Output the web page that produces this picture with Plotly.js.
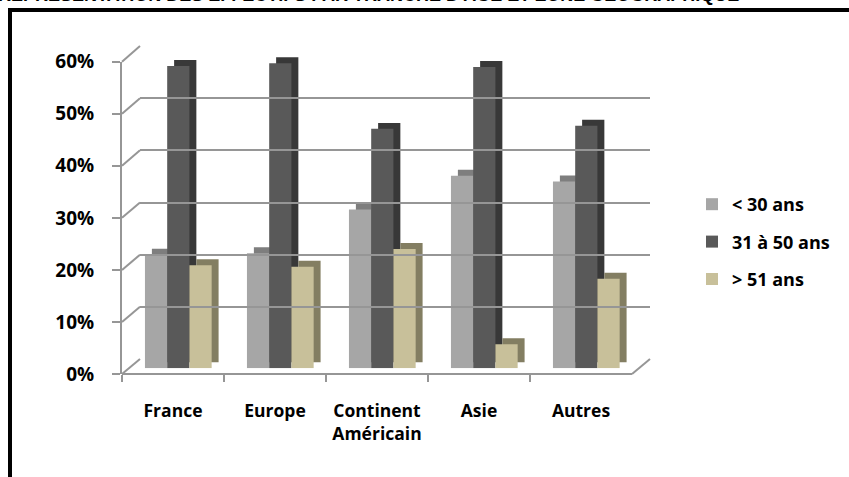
<!DOCTYPE html>
<html><head><meta charset="utf-8">
<script src="https://cdn.plot.ly/plotly-3.0.1.min.js"></script>
<style>html,body{margin:0;padding:0;background:#fff}</style>
</head><body><div id="chart" style="width:849px;height:477px"></div>
<script>
// ---- data ----
const categories = ['France', 'Europe', 'Continent<br>Américain', 'Asie', 'Autres'];
const seriesNames = ['< 30 ans', '31 à 50 ans', '> 51 ans'];
const under30 = [0.218, 0.221, 0.305, 0.370, 0.359];
const from31to50 = [0.581, 0.586, 0.460, 0.579, 0.466];
const over51 = [0.198, 0.195, 0.229, 0.046, 0.172];
const yTickVals = [0, 0.1, 0.2, 0.3, 0.4, 0.5, 0.6];
const titleText = "REPRESENTATION DES EFFECTIFS PAR TRANCHE D'AGE ET ZONE GEOGRAPHIQUE";

// ---- styling / geometry ----
const W = 849, H = 477;
const px = v => v / W, py = v => (H - v) / H;
const frontColors = ['#a6a6a6', '#595959', '#c8c09a'];
const sideColors = ['#7e7e7e', '#383838', '#837e62'];
const offsets = [-0.275, -0.057, 0.161];
const barW = 0.218;
const depthX = 0.068, depthY = 0.0115;
const gridCol = '#969696';
const seriesVals = [under30, from31to50, over51];
const font = 'Open Sans, Arial, sans-serif';

const traces = [];
seriesVals.forEach((vals, i) => {
  traces.push({
    type: 'bar', x: categories, y: vals, base: depthY,
    offset: offsets[i] + depthX, width: barW,
    marker: {color: sideColors[i]}, showlegend: false, hoverinfo: 'skip',
    xaxis: 'x', yaxis: 'y'
  });
});
seriesVals.forEach((vals, i) => {
  traces.push({
    type: 'bar', x: categories, y: vals, name: seriesNames[i],
    offset: offsets[i], width: barW, legendgroup: 'g' + i,
    marker: {color: frontColors[i]}, xaxis: 'x', yaxis: 'y'
  });
});
traces.push({type: 'scatter', x: [], y: [], xaxis: 'x2', yaxis: 'y2', showlegend: false});
traces.push({type: 'scatter', x: [], y: [], xaxis: 'x3', yaxis: 'y3', showlegend: false});

// front axis / back wall geometry
const frontTop = 61.7, frontBot = 374;
const backTop = 46, backBot = 359;
const shapes = [];
yTickVals.forEach(v => {
  const f = v / 0.6;
  shapes.push({type: 'line', xref: 'paper', yref: 'paper',
    x0: px(122), y0: py(frontBot) + f * (py(frontTop) - py(frontBot)),
    x1: px(140), y1: py(backBot) + f * (py(backTop) - py(backBot)),
    line: {color: gridCol, width: 2}});
});
shapes.push({type: 'line', xref: 'paper', yref: 'paper',
  x0: px(632), y0: py(frontBot), x1: px(650), y1: py(backBot),
  line: {color: gridCol, width: 2}});
// outer black frame
shapes.push({type: 'line', xref: 'paper', yref: 'paper', x0: px(8), y0: py(10), x1: px(870), y1: py(10), line: {color: '#000', width: 4}});
shapes.push({type: 'line', xref: 'paper', yref: 'paper', x0: px(10), y0: py(8), x1: px(10), y1: py(500), line: {color: '#000', width: 4}});

const layout = {
  width: W, height: H,
  margin: {l: 0, r: 0, t: 0, b: 0},
  paper_bgcolor: '#fff', plot_bgcolor: 'rgba(0,0,0,0)',
  barmode: 'overlay',
  showlegend: true,
  legend: {x: px(692), y: py(186), xanchor: 'left', yanchor: 'top',
    traceorder: 'grouped', tracegroupgap: 11,
    font: {family: font, size: 18, color: '#000', weight: 'bold'}},
  xaxis: {domain: [px(122), px(632)], range: [-0.5, 4.5], type: 'category',
    anchor: 'free', position: py(frontBot),
    showline: true, linecolor: gridCol, linewidth: 2,
    ticks: 'outside', tickson: 'boundaries', ticklen: 7, tickwidth: 2, tickcolor: gridCol,
    showgrid: false, zeroline: false,
    ticklabelstandoff: 21,
    tickfont: {family: font, size: 17.5, color: '#000', weight: 'bold'}},
  yaxis: {domain: [py(368.3), py(368.3 - 312.3)], range: [0, 0.6], anchor: 'x', visible: false},
  xaxis2: {domain: [px(140), px(650)], range: [0, 1], anchor: 'y2', visible: false},
  yaxis2: {domain: [py(backBot), py(backTop)], range: [0, 0.6], anchor: 'x2',
    tickvals: yTickVals, showticklabels: false, ticks: '',
    showgrid: true, gridcolor: gridCol, gridwidth: 2, zeroline: false, showline: false},
  xaxis3: {domain: [px(122), px(632)], range: [0, 1], anchor: 'y3', visible: false},
  yaxis3: {domain: [py(frontBot), py(frontTop)], range: [0, 0.6], anchor: 'x3',
    tickvals: yTickVals, tickformat: '.0%',
    showline: true, linecolor: gridCol, linewidth: 2,
    ticks: 'outside', ticklen: 8, tickwidth: 2, tickcolor: gridCol,
    ticklabelstandoff: 14,
    showgrid: false, zeroline: false,
    tickfont: {family: font, size: 19, color: '#000', weight: 'bold'}},
  shapes: shapes,
  annotations: [{text: titleText, xref: 'paper', yref: 'paper', x: px(-4), y: py(7),
    xanchor: 'left', yanchor: 'bottom', showarrow: false,
    font: {family: 'Liberation Sans, Arial, sans-serif', size: 18, color: '#000', weight: 'bold'}}]
};

Plotly.newPlot('chart', traces, layout, {displayModeBar: false, staticPlot: true});
</script></body></html>
